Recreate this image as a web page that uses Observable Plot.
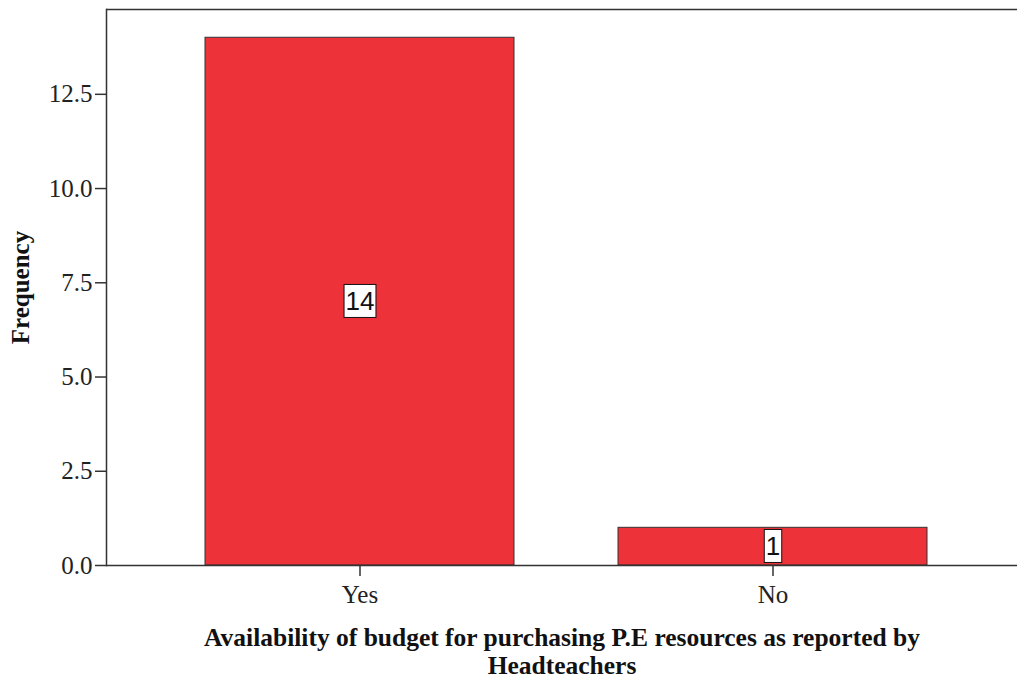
<!DOCTYPE html>
<html><head><meta charset="utf-8">
<script src="https://cdn.jsdelivr.net/npm/d3@7"></script>
<script src="https://cdn.jsdelivr.net/npm/@observablehq/plot@0.6"></script>
<style>body{margin:0;background:#fff;}</style>
</head><body><div id="chart"></div>
<script>
const categories = ["Yes", "No"];
const frequencies = [14, 1];
const yTicks = [0, 2.5, 5, 7.5, 10, 12.5];
const yTop = 14.75;
const xTitle = "Availability of budget for purchasing P.E resources as reported by\nHeadteachers";
const yTitle = "Frequency";

const data = categories.map((c, i) => ({category: c, value: frequencies[i]}));

const plot = Plot.plot({
  width: 1017, height: 679,
  marginTop: 9, marginBottom: 114, marginLeft: 106, marginRight: 0,
  style: {fontFamily: "'Liberation Serif', 'Times New Roman', serif", fontSize: "25px", color: "#222", background: "#fff"},
  x: {domain: categories, paddingInner: 0.251, paddingOuter: 0.226, align: 0.524, label: null},
  y: {domain: [0, yTop], label: null},
  marks: [
    Plot.barY(data, {x: "category", y: "value", fill: "#ee3239", stroke: "#333", strokeWidth: 1}),
    Plot.axisY({ticks: yTicks, tickFormat: d3.format(".1f"), tickSize: 11, tickPadding: 3, stroke: "#333", strokeWidth: 1.5, label: null}),
    Plot.axisX({tickSize: 11, tickPadding: 9, stroke: "#333", strokeWidth: 1.5, label: null}),
    Plot.ruleY([0, yTop], {stroke: "#333", strokeWidth: 1.5}),
    Plot.frame({anchor: "left", stroke: "#333", strokeWidth: 1.5}),
    Plot.text(data, {x: "category", y: d => d.value / 2, text: d => String(d.value), fontFamily: "'Liberation Sans', Arial, sans-serif", fontSize: 26, fill: "#111", className: "bar-value"}),
    Plot.text([yTitle], {frameAnchor: "left", textAnchor: "middle", text: d => d, rotate: -90, dx: -86, fontWeight: "bold", fontSize: 25, fill: "#111"}),
    Plot.text([xTitle], {frameAnchor: "bottom", text: d => d, lineAnchor: "top", dy: 61, fontWeight: "bold", fontSize: 25.5, lineHeight: 1.1, fill: "#111"})
  ]
});
document.getElementById("chart").append(plot);

let g = plot.querySelector("g.bar-value");
if (!g) g = plot.querySelector('g[aria-label="text"]');
if (g) {
  g.querySelectorAll("text").forEach(t => {
    const b = t.getBBox();
    const r = document.createElementNS("http://www.w3.org/2000/svg", "rect");
    const pad = 1.5;
    r.setAttribute("x", b.x - pad);
    r.setAttribute("y", b.y - pad);
    r.setAttribute("width", b.width + 2 * pad);
    r.setAttribute("height", b.height + 2 * pad);
    r.setAttribute("fill", "#fff");
    r.setAttribute("stroke", "#111");
    r.setAttribute("stroke-width", "1");
    const tr = t.getAttribute("transform");
    if (tr) r.setAttribute("transform", tr);
    t.parentNode.insertBefore(r, t);
  });
}
</script>
</body></html>
